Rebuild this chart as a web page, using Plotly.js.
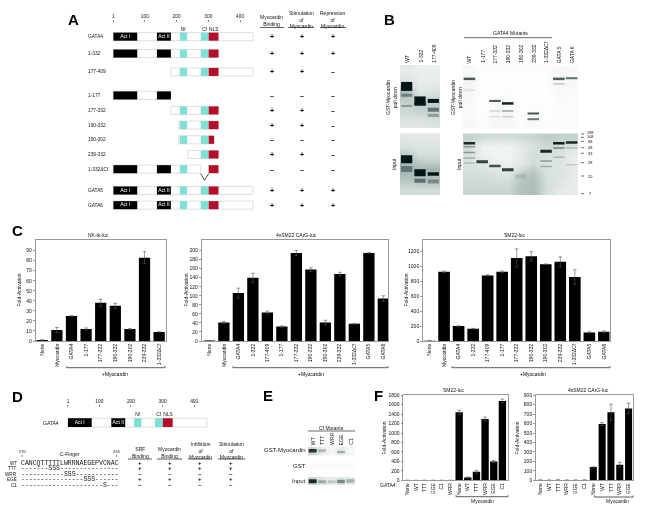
<!DOCTYPE html>
<html><head><meta charset="utf-8">
<script src="https://cdn.plot.ly/plotly-3.0.1.min.js"></script>
<style>html,body{margin:0;padding:0;background:#fff}#g{width:648px;height:511px;filter:blur(0.4px)}</style>
</head><body><div id="g"></div>
<script>
// ---------- bar chart data ----------
const c1Labels = ['None','Myocardin','GATA4','1-177','177-332','190-332','190-302','239-332','1-332\u0394Cf'];
const c1Values = [1,11,25,12,38,35,12,83,9];
const c1Errors = [0,2.5,0,1,3.5,2.5,0.5,6,0];
const c1Ticks  = [0,10,20,30,40,50,60,70,80,90];
const c2Labels = ['None','Myocardin','GATA4','1-332','177-409','1-177','177-332','190-332','190-302','239-332','1-332\u0394Cf','GATA5','GATA6'];
const c2Values = [1,41,106,140,63,32,195,158,41,148,38,195,94];
const c2Errors = [0,2,11,10,3,1.5,6,4,5,4,1,0,6];
const c2Ticks  = [0,20,40,60,80,100,120,140,160,180,200];
const c3Labels = ['None','Myocardin','GATA4','1-332','177-409','1-177','177-332','190-332','190-302','239-332','1-332\u0394Cf','GATA5','GATA6'];
const c3Values = [3,925,199,164,877,925,1111,1133,1027,1058,855,115,124];
const c3Errors = [0,10,5,5,8,10,120,62,0,67,97,8,12];
const c3Ticks  = [0,200,400,600,800,1000,1200];
const f1Labels = ['None','WT','TTT','EGE','C1','WRR','None','WT','TTT','WRR','EGE','C1'];
const f1Values = [0,0,0,0,0,0,1440,60,180,1300,400,1680];
const f1Errors = [0,0,0,0,0,0,40,10,30,40,20,40];
const f1Ticks  = [0,200,400,600,800,1000,1200,1400,1600,1800];
const f2Labels = ['None','WT','TTT','WRR','EGE','C1','None','WT','TTT','WRR','EGE'];
const f2Values = [3,2,4,2,2,4,140,595,720,165,760];
const f2Errors = [0,0,0,0,0,0,0,15,85,25,55];
const f2Ticks  = [0,100,200,300,400,500,600,700,800,900];

// ---------- domain map data (amino acids) ----------
const aLabels  = ['GATA4','1-332','177-409','1-177','177-332','190-332','190-302','239-332','1-332\u0394Cf','GATA5','GATA6'];
const aFrom    = [1,1,182,1,182,207,207,235,1,1,1];
const aTo      = [440,332,440,182,332,332,318,332,276,440,440];
const aAct1    = [0,1,3,8,9,10];
const aAct2    = [0,1,3,8,9,10];
const aNf      = [0,1,2,4,5,6,8,9,10];
const aCf      = [0,1,2,4,5,6,7,9,10];
const aNls     = [0,1,2,4,5,7,8,9,10];
const aNlsShort= [6];
const aNamed   = [0,9,10];
const aBinding = ['+','+','+','\u2013','+','+','\u2013','+','\u2013','+','+'];
const aStim    = ['+','+','+','\u2013','+','+','\u2013','+','\u2013','+','+'];
const aRepress = ['+','+','\u2013','\u2013','\u2013','\u2013','\u2013','\u2013','\u2013','+','+'];
const rulerVals = [1,100,200,300,400];

// ---------- sequence table ----------
const seqNames = ['WT','TTT','WRR','EGE','C1'];
const seqRows  = ['CANCQTTTTTLWRRNAEGEPVCNAC','-------SSS---------------','-----------SSS-----------','----------------SSS------','---------------------S---'];
const dSrf     = ['+','+','\u2013','+','\u2013'];
const dMyo     = ['+','+','\u2013','+','\u2013'];
const dInh     = ['+','+','\u2013','+','\u2013'];
const dStim    = ['+','+','\u2013','+','\u2013'];

// ---------- blots ----------
const b1Lanes = ['WT','1-332','177-409'];
const b2Lanes = ['WT','1-177','177-332','190-332','190-302','239-332','1-332\u0394Cf','GATA 5','GATA 6'];
const eLanes  = ['WT','TTT','WRR','EGE','C1'];
const ladder  = ['198','108','68','48','33','28','20','7'];
const b1TopBg = [[.16,.12,.12],[.22,.14,.14],[.42,.18,.22],[.32,.38,.34],[.28,.3,.32],[.2,.2,.22]];
const b1BotBg = [[.18,.18,.18],[.26,.22,.22],[.42,.3,.3],[.46,.46,.46],[.38,.4,.4],[.26,.26,.26]];
const b2TopBg = [[.05,.02,.02,.02,.02,.02,.02,.05,.04],[.08,.01,.01,.01,.01,.01,.01,.07,.05],[.06,.01,.02,.03,.01,.01,.01,.04,.03],[.04,.01,.05,.06,.01,.03,.01,.03,.02],[.05,.02,.06,.06,.02,.05,.02,.03,.02]];
const b2BotBg = [[.32,.28,.26,.26,.28,.3,.34,.32,.32],[.28,.1,.1,.1,.16,.24,.28,.26,.2],[.24,.12,.08,.08,.16,.26,.24,.22,.14],[.22,.18,.14,.12,.18,.28,.22,.2,.14],[.26,.24,.22,.2,.34,.38,.24,.22,.16],[.28,.28,.26,.26,.38,.42,.26,.2,.14],[.3,.3,.3,.3,.4,.42,.26,.16,.14]];
const eTopBg  = [[.3,.12,.06,.14,.06]];
const eMidBg  = [[.03,.03,.03,.03,.03]];
const eBotBg  = [[.3,.18,.12,.2,.16]];
// bands: lane, position (% of blot height), darkness, thickness
const b1TopBand = {lane:[0,0,0,1,1,2,2,2], pos:[34,48,65,57,62,57,71,80], dark:[1,.4,.3,1,.95,1,.5,.3], thick:[9,3,2,9,3,4,4,3]};
const b1BotBand = {lane:[0,0,1,1,2,2], pos:[42,58,64,77,66,78], dark:[1,.4,1,.5,1,.35], thick:[8,6,7,4,3.5,4]};
const b2TopBand = {lane:[0,0,2,2,2,3,3,3,5,5,7,7,8], pos:[22,40,57,73,82,61,73,82,77,86,22,30,21], dark:[.7,.08,.72,.16,.1,.95,.28,.18,.72,.58,.68,.2,.62], thick:[2.5,2,2,1.5,1.5,2.5,2,1.5,2,2,2.5,1.5,2]};
const b2BotBand = {lane:[0,0,0,0,0,1,2,3,4,6,6,6,7,7,7,8,8,8], pos:[16,22,31,40,48,46,53,59,70,29,45,54,16,24,39,15,24,51], dark:[.9,.35,.35,.25,.18,.8,.72,.8,.1,.9,.35,.25,.95,.35,.2,.9,.2,.16], thick:[2.5,1.5,1.5,1.5,1.5,3,2.5,3,4,3,1.5,1.5,2.5,2,1.5,2.5,1.5,1.5]};
const eTopBand = {lane:[0,1,3], pos:[45,45,60], dark:[.85,.25,.3], thick:[3.5,3,2.5]};
const eMidBand = {lane:[], pos:[], dark:[], thick:[]};
const eBotBand = {lane:[0,1,2,3,4], pos:[50,55,55,52,48], dark:[.9,.3,.18,.45,.28], thick:[4,3,3,3.5,3.5]};

// ---------- helpers ----------
const W=648,H=511, FONT='Liberation Sans, Arial, sans-serif';
const X=p=>p/W, Y=p=>1-p/H;
const data=[], layout={width:W,height:H,margin:{l:0,r:0,t:0,b:0},paper_bgcolor:'#fff',plot_bgcolor:'rgba(0,0,0,0)',
  showlegend:false,barmode:'overlay',font:{family:FONT,size:5,color:'#111'},annotations:[],shapes:[]};
let axN=0;
function axes(l,r,t,b,xa,ya){axN++;const s=axN===1?'':axN;
  layout['xaxis'+s]=Object.assign({domain:[X(l),X(r)],anchor:'y'+s,fixedrange:true},xa);
  layout['yaxis'+s]=Object.assign({domain:[Y(b),Y(t)],anchor:'x'+s,fixedrange:true},ya);
  return {x:'x'+s,y:'y'+s};}
function note(t,x,y,o={}){layout.annotations.push({text:t,x:X(x),y:o.yref?y:Y(y),xref:'paper',yref:o.yref||'paper',showarrow:false,
  xanchor:o.xa||'center',yanchor:o.ya||'middle',textangle:o.rot||0,align:'center',borderpad:0,borderwidth:0,
  font:{size:o.size||5,family:o.family||FONT,color:o.color||'#111'}});}
function rule(x0,y0,x1,y1,c='#333',w=0.8){layout.shapes.push({type:'line',xref:'paper',yref:'paper',x0:X(x0),x1:X(x1),y0:Y(y0),y1:Y(y1),line:{color:c,width:w}});}
function bracket(x0,x1,y){rule(x0,y,x1,y);rule(x0,y-1.5,x0,y);rule(x1,y-1.5,x1,y);}

function barChart(l,r,t,b,labels,values,errors,ticks,yTop,lo,hi,width,title,titleX,labelX){
  const xs=labels.map((_,i)=>i), a=axes(l,r,t,b,
    {range:[lo,hi],tickmode:'array',tickvals:xs,ticktext:labels,tickangle:-90,showline:true,mirror:true,linecolor:'#808080',linewidth:0.8,ticks:'',showgrid:false,zeroline:false,tickfont:{size:5,color:'#111'},automargin:false},
    {range:[0,yTop],tickmode:'array',tickvals:ticks,showline:true,mirror:true,linecolor:'#808080',linewidth:0.8,ticks:'outside',ticklen:2,tickwidth:0.6,tickcolor:'#555',showgrid:false,zeroline:false,tickfont:{size:5,color:'#111'},automargin:false});
  data.push({type:'bar',x:xs,y:values,width:width,xaxis:a.x,yaxis:a.y,marker:{color:'#000',line:{width:0}},
    error_y:{type:'data',array:errors,visible:true,color:'#555',thickness:0.6,width:1.8},hoverinfo:'skip'});
  note(title,titleX,t-5.5,{size:5});
  note('Fold-Activation',labelX,(t+b)/2,{rot:-90,size:5});
}

function domainMap(l,r,t,b,xr,yr){ return axes(l,r,t,b,
  {range:xr,side:'top',tickmode:'array',tickvals:rulerVals,ticks:'outside',ticklen:2.5,tickwidth:0.6,tickcolor:'#333',showline:false,showgrid:false,zeroline:false,tickfont:{size:4.8,color:'#111'},automargin:false},
  {range:yr,visible:false,showgrid:false,zeroline:false});}
function hbar(a,rows,from,to,color,w,line){data.push({type:'bar',orientation:'h',y:rows,base:from,x:to.map((v,i)=>v-from[i]),width:w,xaxis:a.x,yaxis:a.y,
  marker:{color:color,line:line||{width:0}},hoverinfo:'skip'});}
function txt(a,xs,ys,ts,color,size){data.push({type:'scatter',mode:'text',x:xs,y:ys,text:ts,textposition:'middle center',cliponaxis:false,textfont:{size:size,color:color,family:FONT},xaxis:a.x,yaxis:a.y,hoverinfo:'skip'});}

function blot(l,r,t,b,bg,band,halfWidth){
  const n=bg[0].length, a=axes(l,r,t,b,{range:[-0.5,n-0.5],visible:false},{range:[100,0],visible:false});
  const zr=bg.length===1?[bg[0],bg[0]]:bg;
  data.push({type:'heatmap',z:zr,x:bg[0].map((_,i)=>i),y:zr.map((_,i)=>(i+0.5)/zr.length*100),zmin:0,zmax:1,zsmooth:'best',showscale:false,hoverinfo:'skip',
    colorscale:[[0,'#ffffff'],[0.25,'#d6dfdc'],[0.55,'#8ca3a0'],[1,'#1a2b2a']],xaxis:a.x,yaxis:a.y});
  band.lane.forEach((v,i)=>data.push({type:'scatter',mode:'lines',x:[v-halfWidth,v+halfWidth],y:[band.pos[i],band.pos[i]],
    line:{width:band.thick[i],color:`rgba(4,22,22,${band.dark[i]})`},xaxis:a.x,yaxis:a.y,hoverinfo:'skip'}));
}
function laneLabels(names,l,r,y,size){const step=(r-l)/names.length;names.forEach((s,i)=>note(s,l+step*(i+0.5),y,{rot:-90,ya:'bottom',size:size||5}));}

// ---------- panel letters ----------
[['A',73.5,19],['B',389,19],['C',17.5,230],['D',17.5,396],['E',268,395],['F',378,395]].forEach(p=>note('<b>'+p[0]+'</b>',p[1],p[2],{size:15,color:'#000'}));

// ---------- panel A ----------
const aA=domainMap(110,256,23,214,[-9.7,450],[12.1,-0.9]);
const rowsA=[0.03,1.18,2.43,4.03,5.05,6.05,7.05,8.05,9.05,10.5,11.5];
hbar(aA,rowsA,aFrom,aTo,'#fff',0.55,{width:0.6,color:'#c9c9c9'});
hbar(aA,aAct1.map(i=>rowsA[i]),aAct1.map(()=>1),aAct1.map(()=>76),'#000',0.55);
hbar(aA,aAct2.map(i=>rowsA[i]),aAct2.map(()=>138),aAct2.map(()=>182),'#000',0.55);
hbar(aA,aNf.map(i=>rowsA[i]),aNf.map(()=>210),aNf.map(()=>233),'#7fe0d6',0.55);
hbar(aA,aCf.map(i=>rowsA[i]),aCf.map(()=>276),aCf.map(()=>301),'#7fe0d6',0.55);
hbar(aA,aNls.map(i=>rowsA[i]),aNls.map(()=>301),aNls.map(()=>332),'#b40f2a',0.55);
hbar(aA,aNlsShort.map(i=>rowsA[i]),aNlsShort.map(()=>301),aNlsShort.map(()=>318),'#b40f2a',0.55);
data.push({type:'scatter',mode:'lines',x:[276,288,301],y:[9.35,9.8,9.35],line:{color:'#222',width:0.8},xaxis:aA.x,yaxis:aA.y,hoverinfo:'skip'});
txt(aA,aNamed.map(()=>38),aNamed.map(i=>rowsA[i]),aNamed.map(()=>'Act I'),'#fff',5);
txt(aA,aNamed.map(()=>160),aNamed.map(i=>rowsA[i]),aNamed.map(()=>'Act II'),'#fff',5);
txt(aA,[221,288,317],[-0.47,-0.47,-0.47],['Nf','Cf','NLS'],'#111',4.8);
aLabels.forEach((s,i)=>{note(s,87.7,rowsA[i],{yref:aA.y,xa:'left',size:4.8});
  note('<b>'+aBinding[i]+'</b>',272,rowsA[i],{yref:aA.y,size:7,color:'#000'});
  note('<b>'+aStim[i]+'</b>',301.7,rowsA[i],{yref:aA.y,size:7,color:'#000'});
  note('<b>'+aRepress[i]+'</b>',332.7,rowsA[i],{yref:aA.y,size:7,color:'#000'});});
note('Myocardin<br>Binding',271.5,21,{size:5});rule(260,27.5,284,27.5);
note('Stimulation<br>of<br>Myocardin',301.5,19.5,{size:5});rule(288,27.5,314,27.5);
note('Repression<br>of<br>Myocardin',332.5,19.5,{size:5});rule(320,27.5,346,27.5);

// ---------- panel B ----------
blot(400,440,65,128,b1TopBg,b1TopBand,0.42);
blot(400,440,133.3,195,b1BotBg,b1BotBand,0.42);
blot(463,578,65,128,b2TopBg,b2TopBand,0.45);
blot(463,578,133.3,195,b2BotBg,b2BotBand,0.45);
laneLabels(b1Lanes,400,440,63);
laneLabels(b2Lanes,463,578,63);
note('GATA4 Mutants',511,33,{size:5});rule(464,37.7,552,37.7,'#444');
note('GST-Myocardin<br>pull down',391,98,{rot:-90,size:5});
note('Input',394,164,{rot:-90,size:5});
note('GST-Myocardin<br>pull down',456,98,{rot:-90,size:5});
note('Input',459,164,{rot:-90,size:5});
[134,137.3,141.3,147.7,153.3,162.7,176,193.7].forEach((y,i)=>rule(581,y,584,y,'#333',0.7));
[132.3,136.8,141.3,147.7,153.3,162.7,176,193.7].forEach((y,i)=>note(ladder[i],590,y,{size:3.9}));

// ---------- panel C ----------
barChart(35.7,165.7,240,341,c1Labels,c1Values,c1Errors,c1Ticks,100.6,-0.45,8.45,0.77,'NK-tk-luc',98,18);
barChart(201.7,388,240,341,c2Labels,c2Values,c2Errors,c2Ticks,223.5,-0.53,12.32,0.78,'4xSM22 CArG-luc',296,185);
barChart(423,609.7,240,341,c3Labels,c3Values,c3Errors,c3Ticks,1350,-0.45,12.4,0.8,'SM22-luc',515,405);
bracket(66.7,165,367.7);note('+Myocardin',115,373.5,{size:5,color:'#000'});
bracket(233,388,367.7);note('+Myocardin',311,373.5,{size:5,color:'#000'});
bracket(452,610,367.7);note('+Myocardin',533,373.5,{size:5,color:'#000'});

// ---------- panel D ----------
const aD=domainMap(64.5,210,408,430,[-10,450],[0.5,-1.0]);
hbar(aD,[0],[1],[440],'#fff',0.6,{width:0.6,color:'#c9c9c9'});
hbar(aD,[0,0],[1,138],[76,182],'#000',0.6);
hbar(aD,[0,0],[210,276],[233,301],'#7fe0d6',0.6);
hbar(aD,[0],[301],[332],'#b40f2a',0.6);
txt(aD,[38,160],[0,0],['Act I','Act II'],'#fff',5);
txt(aD,[221,288,317],[-0.52,-0.52,-0.52],['Nf','Cf','NLS'],'#111',4.8);
note('GATA4',50.5,0,{yref:aD.y,size:5});
note('270',22.3,451.5,{size:4});note('294',116.7,451.5,{size:4});
rule(22,455,22,457,'#333',0.6);rule(116.5,455,116.5,457,'#333',0.6);
note('C-Finger',70,454,{size:5});
[['SRF<br>Binding',140,452],['Myocardin<br>Binding',169.5,452],['Inhibition<br>of<br>Myocardin',200,450],['Stimulation<br>of<br>Myocardin',231.5,450]].forEach(h=>note(h[0],h[1],h[2],{size:5}));
rule(128,459,152,459);rule(157,459,182,459);rule(188,459,212,459);rule(218,459,245,459);
const seqY=[463,468.3,474,479.3,485];
seqNames.forEach((s,i)=>{note(s,17,seqY[i],{xa:'right',size:4.6});
  note(seqRows[i],20.7,seqY[i],{xa:'left',size:6.5,family:'Liberation Mono, monospace'});
  note('<b>'+dSrf[i]+'</b>',140,seqY[i],{size:6,color:'#000'});note('<b>'+dMyo[i]+'</b>',169.5,seqY[i],{size:6,color:'#000'});
  note('<b>'+dInh[i]+'</b>',200,seqY[i],{size:6,color:'#000'});note('<b>'+dStim[i]+'</b>',231.5,seqY[i],{size:6,color:'#000'});});

// ---------- panel E ----------
blot(308,355,446.7,455.5,eTopBg,eTopBand,0.42);
blot(308,355,461.5,470,eMidBg,eMidBand,0.42);
blot(308,355,477,485.5,eBotBg,eBotBand,0.42);
laneLabels(eLanes,308,355,445,5.2);
note('Cf Mutants',331.5,427.7,{size:5});rule(308,431,355,431,'#444');
note('GST-Myocardin',306,450.3,{xa:'right',size:6});note('GST',306,465.7,{xa:'right',size:6});note('Input',306,481,{xa:'right',size:6});

// ---------- panel F ----------
barChart(403.3,508,395.3,480.3,f1Labels,f1Values,f1Errors,f1Ticks,1800,-0.46,11.65,0.85,'SM22-luc',454,383.7);
barChart(536,633,395.3,480.3,f2Labels,f2Values,f2Errors,f2Ticks,900,-0.5,10.5,0.8,'4xSM22 CArG-luc',588,516.7);
note('GATA4:',388,484.5,{size:5});
bracket(456,508,496.7);note('Myocardin',482.7,501,{size:5});
bracket(594.5,633,497);note('Myocardin',617,501,{size:5});

Plotly.newPlot('g',data,layout,{staticPlot:true,displayModeBar:false});
</script></body></html>
